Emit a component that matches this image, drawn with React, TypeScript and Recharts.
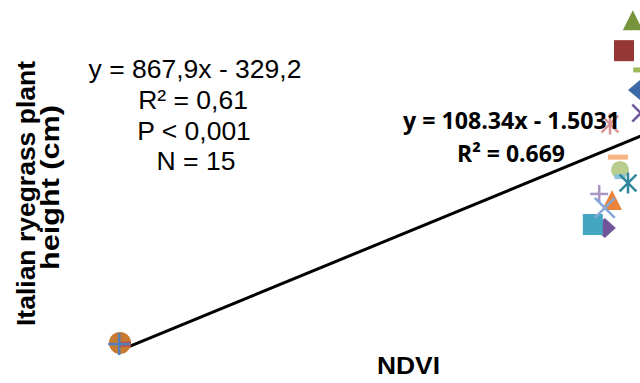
import { ScatterChart, Scatter, XAxis, YAxis, ReferenceLine } from "recharts";

// one point per plot, Excel style (every point is its own series)
const plotIds = [
  "L1", "L2", "L3",
  "P1", "P2", "P3", "P4", "P5", "P6", "P7", "P8",
  "P9", "P10", "P11", "P12", "P13", "P14", "P15",
];
const ndviValues = [
  0.15, 0.157, 0.149,
  0.756, 0.741, 0.749, 0.765, 0.756, 0.775, 0.775, 0.785,
  0.7725, 0.7625, 0.801, 0.8, 0.804, 0.78, 0.791,
];
const heightValues = [
  17.2, 16.8, 16.8,
  55.0, 56.3, 66.2, 64.2, 61.6, 74.1, 71.9, 69.8,
  78.3, 89.2, 92.8, 100.4, 107.0, 113.5, 123.3,
];

// marker style per series
const markerKinds = [
  "circle", "dash", "plus",
  "diamond", "square", "plus", "triangle", "x", "circle", "dash", "asterisk",
  "dash", "asterisk", "x", "diamond", "dash", "square", "triangle",
];
const markerColors = [
  "#C67A32", "#BE4B48", "#4F81BD",
  "#725598", "#43A5C0", "#A895C4", "#E9843A", "#84A6D8", "#B9CE8E", "#8CC4D8", "#31859C",
  "#F9B486", "#D99694", "#70589A", "#3C6AA6", "#9BBB59", "#953735", "#77933C",
];
const markerSizes = [
  22, 11, 22,
  22, 20, 18, 20, 20, 18, 11, 21,
  20, 21, 17, 24, 20, 20, 20,
];

const trendSlope = 108.34;
const trendIntercept = -1.5031;

const W = 640;
const H = 383;

const Marker = (props: any) => {
  const { cx, cy, kind, color, size } = props;
  if (cx == null || cy == null) return null;
  const h = size / 2;
  switch (kind) {
    case "circle":
      return <circle cx={cx} cy={cy} r={h} fill={color} />;
    case "square":
      return <rect x={cx - h} y={cy - h} width={size} height={size + 1} fill={color} />;
    case "triangle":
      return (
        <polygon
          points={`${cx},${cy - h} ${cx + h},${cy + h} ${cx - h},${cy + h}`}
          fill={color}
        />
      );
    case "diamond":
      return (
        <polygon
          points={`${cx},${cy - 10} ${cx + h},${cy} ${cx},${cy + 10} ${cx - h},${cy}`}
          fill={color}
        />
      );
    case "dash":
      return <rect x={cx - h} y={cy - 2.5} width={size} height={5} fill={color} />;
    case "plus":
      return (
        <g stroke={color} strokeWidth={2.5}>
          <line x1={cx - h} y1={cy} x2={cx + h} y2={cy} />
          <line x1={cx} y1={cy - h} x2={cx} y2={cy + h} />
        </g>
      );
    case "x":
      return (
        <g stroke={color} strokeWidth={2.5}>
          <line x1={cx - h} y1={cy - h} x2={cx + h} y2={cy + h} />
          <line x1={cx - h} y1={cy + h} x2={cx + h} y2={cy - h} />
        </g>
      );
    case "asterisk":
      return (
        <g stroke={color} strokeWidth={2.5}>
          <line x1={cx - h * 0.8} y1={cy - h * 0.8} x2={cx + h * 0.8} y2={cy + h * 0.8} />
          <line x1={cx - h * 0.8} y1={cy + h * 0.8} x2={cx + h * 0.8} y2={cy - h * 0.8} />
          <line x1={cx} y1={cy - h} x2={cx} y2={cy + h} />
        </g>
      );
    default:
      return null;
  }
};

export default function App() {
  const xMin = Math.min(...ndviValues);
  const xMax = Math.max(...ndviValues);

  return (
    <div style={{ position: "absolute", left: 0, top: 0, width: W, height: H, background: "#fff" }}>
      <ScatterChart width={W} height={H} margin={{ top: 0, right: 0, bottom: 0, left: 0 }}>
        <XAxis type="number" dataKey="x" domain={[0, 0.8]} hide allowDataOverflow />
        <YAxis type="number" dataKey="y" domain={[4, 130]} hide allowDataOverflow />
        <ReferenceLine
          segment={[
            { x: xMin, y: trendSlope * xMin + trendIntercept },
            { x: xMax, y: trendSlope * xMax + trendIntercept },
          ]}
          stroke="#000"
          strokeWidth={3}
          ifOverflow="visible"
        />
        {plotIds.map((id, i) => (
          <Scatter
            key={id}
            name={id}
            data={[{ x: ndviValues[i], y: heightValues[i] }]}
            isAnimationActive={false}
            shape={(p: any) => (
              <Marker
                cx={p.cx}
                cy={p.cy}
                kind={markerKinds[i]}
                color={markerColors[i]}
                size={markerSizes[i]}
              />
            )}
          />
        ))}
      </ScatterChart>
      <svg
        width={W}
        height={H}
        style={{ position: "absolute", left: 0, top: 0, pointerEvents: "none" }}
      >
        <g fontFamily="'Liberation Sans', Arial, sans-serif" fontSize={26.5} fill="#000" textAnchor="middle">
          <text x={195} y={78}>y = 867,9x - 329,2</text>
          <text x={193} y={109}>R² = 0,61</text>
          <text x={194} y={139.5}>P &lt; 0,001</text>
          <text x={196} y={170}>N = 15</text>
        </g>
        <g fontFamily="'Open Sans', sans-serif" fontWeight="bold" fontSize={23} fill="#000" textAnchor="middle">
          <text x={511.5} y={129} textLength={217} lengthAdjust="spacingAndGlyphs">y = 108.34x - 1.5031</text>
          <text x={511} y={162} textLength={108} lengthAdjust="spacingAndGlyphs">R² = 0.669</text>
        </g>
        <g fontFamily="'Liberation Sans', Arial, sans-serif" fontWeight="bold" fill="#000" textAnchor="middle">
          <text x={408.5} y={374} fontSize={24} textLength={63} lengthAdjust="spacingAndGlyphs">NDVI</text>
          <text transform="translate(35,193.5) rotate(-90)" fontSize={25} textLength={265} lengthAdjust="spacingAndGlyphs">
            Italian ryegrass plant
          </text>
          <text transform="translate(59,187.5) rotate(-90)" fontSize={25} textLength={165} lengthAdjust="spacingAndGlyphs">
            height (cm)
          </text>
        </g>
      </svg>
    </div>
  );
}
